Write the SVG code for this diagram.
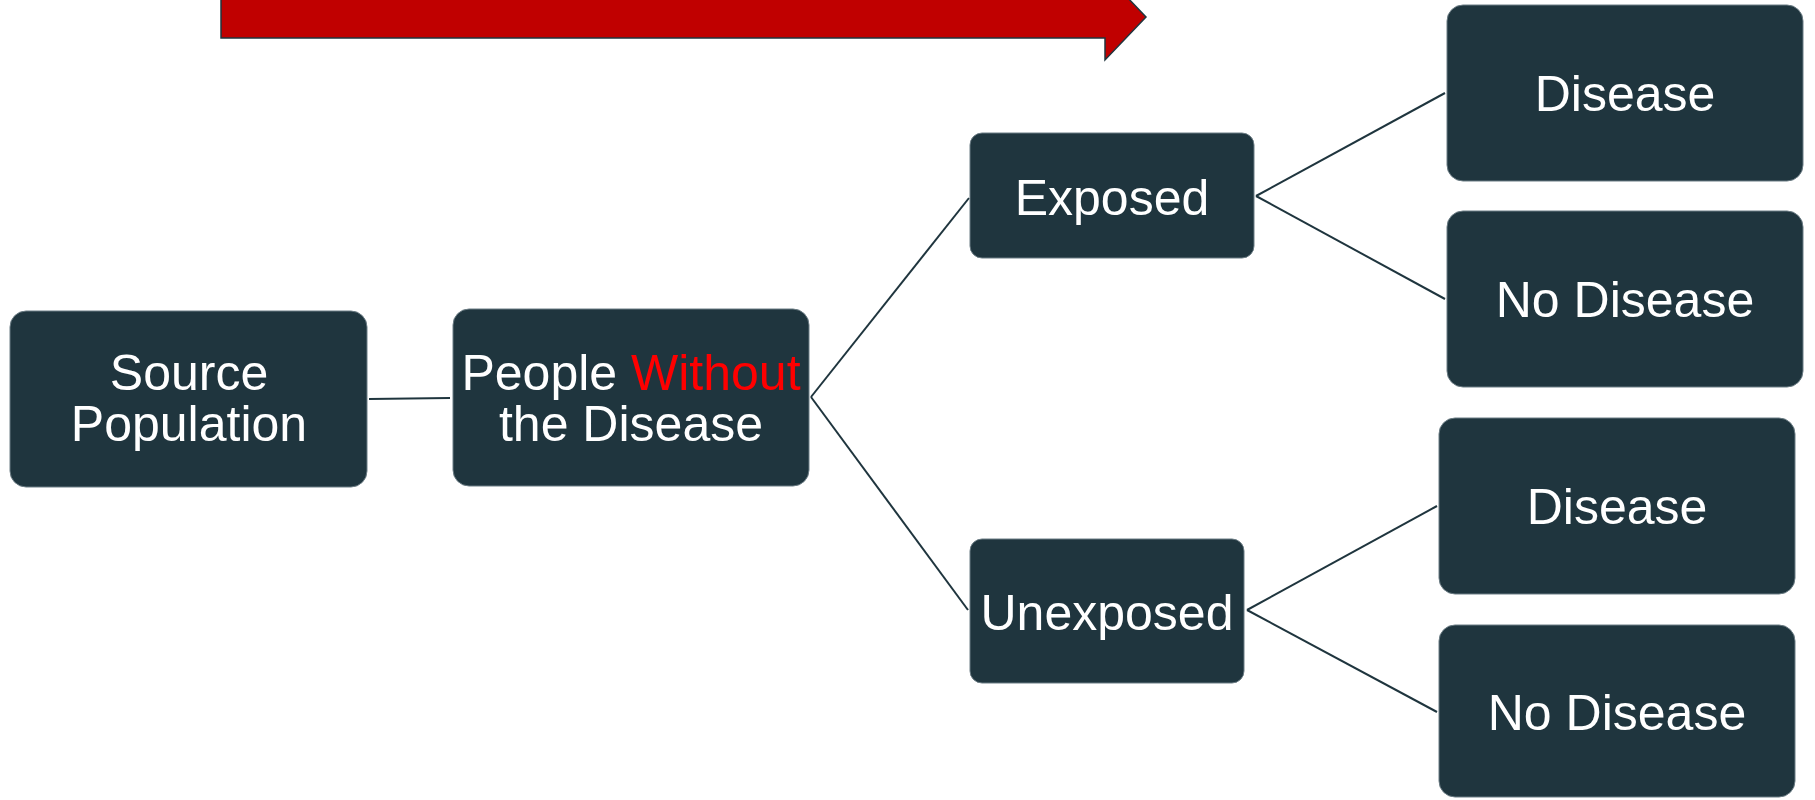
<svg xmlns="http://www.w3.org/2000/svg" width="1815" height="800" viewBox="0 0 1815 800">
<style>
.node{fill:#1F353E;stroke:#6B7C84;stroke-width:1}
.lbl{font-family:"Liberation Sans",Arial,sans-serif;font-size:50px;fill:#FFFFFF;text-anchor:middle}
.red{fill:#FF0000}
.conn line{stroke:#1F353E;stroke-width:2}
</style>
<rect width="1815" height="800" fill="#FFFFFF"/>
<g id="timeline-arrow">
<path d="M221,-4 H1105 V-26 L1146,17 L1105,60 V38 H221 Z" fill="#C00000" stroke="#1F353E" stroke-width="1.5"/>
</g>
<g class="conn" id="connectors">
<line x1="369" y1="399" x2="450" y2="398"/>
<line x1="811" y1="397" x2="969" y2="198"/>
<line x1="811" y1="397" x2="968" y2="610"/>
<line x1="1256" y1="196" x2="1445" y2="93"/>
<line x1="1256" y1="196" x2="1445" y2="299"/>
<line x1="1247" y1="610" x2="1437" y2="506"/>
<line x1="1247" y1="610" x2="1437" y2="712"/>
</g>
<g id="source-population">
<rect class="node" x="10" y="311" width="357" height="176" rx="16"/>
<text class="lbl" x="189" y="390">Source</text>
<text class="lbl" x="189" y="441">Population</text>
</g>
<g id="people-without">
<rect class="node" x="453" y="309" width="356" height="177" rx="16"/>
<text class="lbl" x="631" y="390">People <tspan class="red">Without</tspan></text>
<text class="lbl" x="631" y="441">the Disease</text>
</g>
<g id="exposed">
<rect class="node" x="970" y="133" width="284" height="125" rx="12"/>
<text class="lbl" x="1112" y="215">Exposed</text>
</g>
<g id="unexposed">
<rect class="node" x="970" y="539" width="274" height="144" rx="12"/>
<text class="lbl" x="1107" y="630">Unexposed</text>
</g>
<g id="exposed-disease">
<rect class="node" x="1447" y="5" width="356" height="176" rx="16"/>
<text class="lbl" x="1625" y="111">Disease</text>
</g>
<g id="exposed-no-disease">
<rect class="node" x="1447" y="211" width="356" height="176" rx="16"/>
<text class="lbl" x="1625" y="317">No Disease</text>
</g>
<g id="unexposed-disease">
<rect class="node" x="1439" y="418" width="356" height="176" rx="16"/>
<text class="lbl" x="1617" y="524">Disease</text>
</g>
<g id="unexposed-no-disease">
<rect class="node" x="1439" y="625" width="356" height="172" rx="16"/>
<text class="lbl" x="1617" y="730">No Disease</text>
</g>
</svg>
